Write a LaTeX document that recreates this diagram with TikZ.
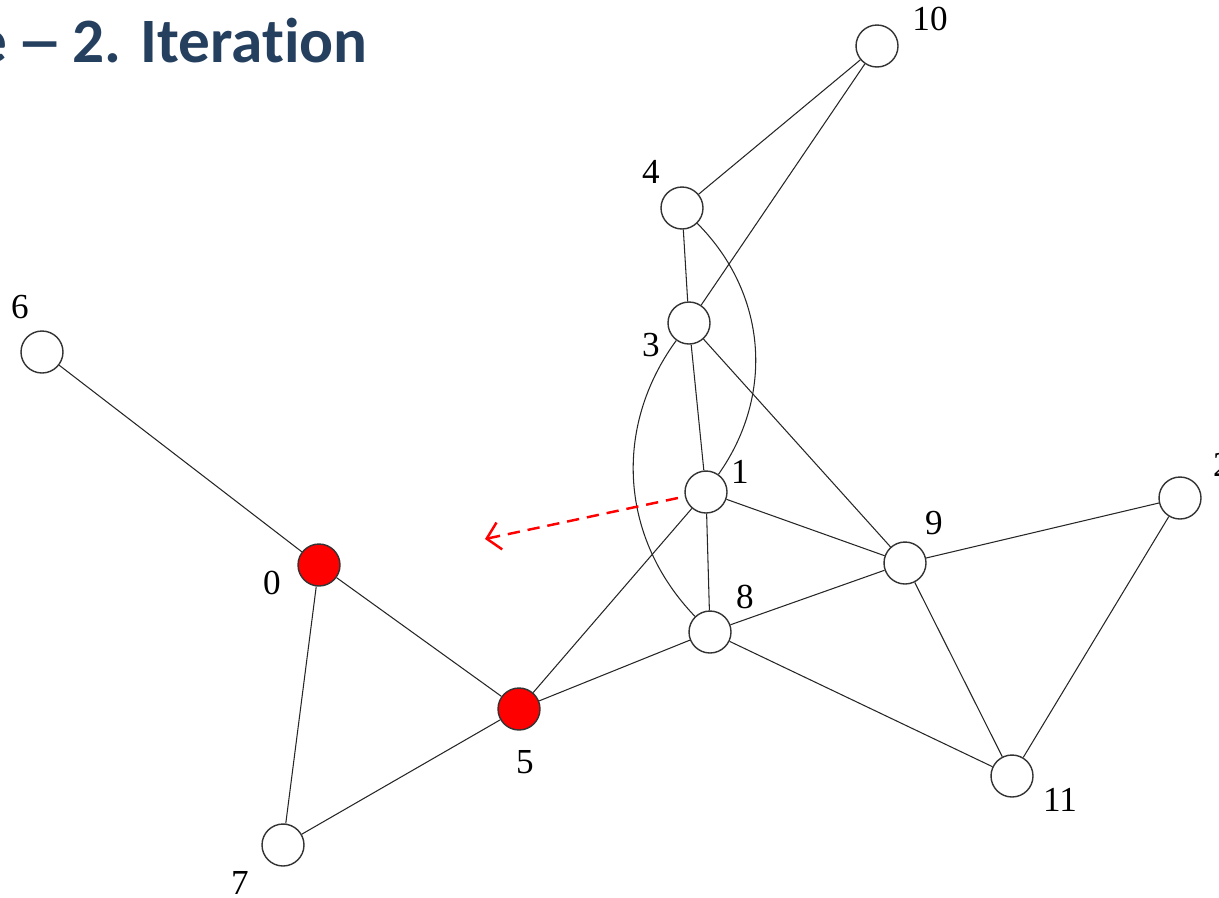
\documentclass[tikz,border=0pt]{standalone}
\usepackage{fontspec}
\setmainfont{Liberation Serif}
\newfontfamily\titlefont[Ligatures=NoCommon]{Carlito}
\usepackage{xcolor}
\usetikzlibrary{arrows.meta, positioning, calc}

\definecolor{titleblue}{HTML}{253F5F}

\begin{document}
\begin{tikzpicture}[
    x=0.02cm, y=-0.02cm,
    vertex/.style={circle, draw=black!80, line width=0.8pt, fill=white, minimum size=0.84cm, inner sep=0pt},
    active/.style={vertex, fill=red},
    lbl/.style={font=\fontsize{20}{24}\selectfont, inner sep=0pt},
    edge/.style={draw=black!85, line width=0.6pt},
    move/.style={draw=red, line width=1.4pt, dash pattern=on 7pt off 4.5pt, -{Straight Barb[length=2.6mm, width=5.5mm, line width=1.4pt]}}
]
    \useasboundingbox (0,0) rectangle (1219,897);

    % Title
    \node[font=\titlefont\bfseries\fontsize{36}{44}\selectfont, text=titleblue, anchor=base west, inner sep=0pt] (title) at (-25,62) {e\hspace{0.15em}\scalebox{1.5}[1]{–}\hspace{0.14em}2. Iteration};

    % Vertices
    \node[vertex] (n10) at (877,46) {};
    \node[vertex] (n4) at (682,208) {};
    \node[vertex] (n3) at (689,323) {};
    \node[vertex] (n1) at (706,492) {};
    \node[vertex] (n9) at (905,563) {};
    \node[vertex] (n2) at (1180,498) {};
    \node[vertex] (n8) at (710,632) {};
    \node[active] (n5) at (519,709) {};
    \node[active] (n0) at (319,565) {};
    \node[vertex] (n6) at (42,352) {};
    \node[vertex] (n7) at (283,845) {};
    \node[vertex] (n11) at (1012,776) {};

    % Labels
    \node[lbl] (l10) at (930,19) {10};
    \node[lbl] (l4) at (651,172) {4};
    \node[lbl] (l3) at (651,345) {3};
    \node[lbl] (l1) at (740,472) {1};
    \node[lbl] (l9) at (934,523) {9};
    \node[lbl] (l2) at (1222,465) {2};
    \node[lbl] (l8) at (745,597) {8};
    \node[lbl] (l5) at (525,762) {5};
    \node[lbl] (l0) at (272,583) {0};
    \node[lbl] (l6) at (20,307) {6};
    \node[lbl] (l7) at (240,883) {7};
    \node[lbl] (l11) at (1060,800) {11};

    % Edges
    \path[edge] (n10) -- (n4);
    \path[edge] (n10) -- (n3);
    \path[edge] (n4) -- (n3);
    \path[edge] (n4) to[bend left=40] (n1);
    \path[edge] (n3) -- (n1);
    \path[edge] (n3) to[bend right=40] (n8);
    \path[edge] (n3) -- (n9);
    \path[edge] (n1) -- (n9);
    \path[edge] (n1) -- (n8);
    \path[edge] (n1) -- (n5);
    \path[edge] (n9) -- (n2);
    \path[edge] (n9) -- (n8);
    \path[edge] (n9) -- (n11);
    \path[edge] (n2) -- (n11);
    \path[edge] (n8) -- (n5);
    \path[edge] (n8) -- (n11);
    \path[edge] (n0) -- (n6);
    \path[edge] (n0) -- (n5);
    \path[edge] (n0) -- (n7);
    \path[edge] (n7) -- (n5);

    % Move of vertex 1
    \coordinate (target) at (485,539);
    \draw[move, shorten <=4pt] (n1) -- (target);
\end{tikzpicture}
\end{document}
